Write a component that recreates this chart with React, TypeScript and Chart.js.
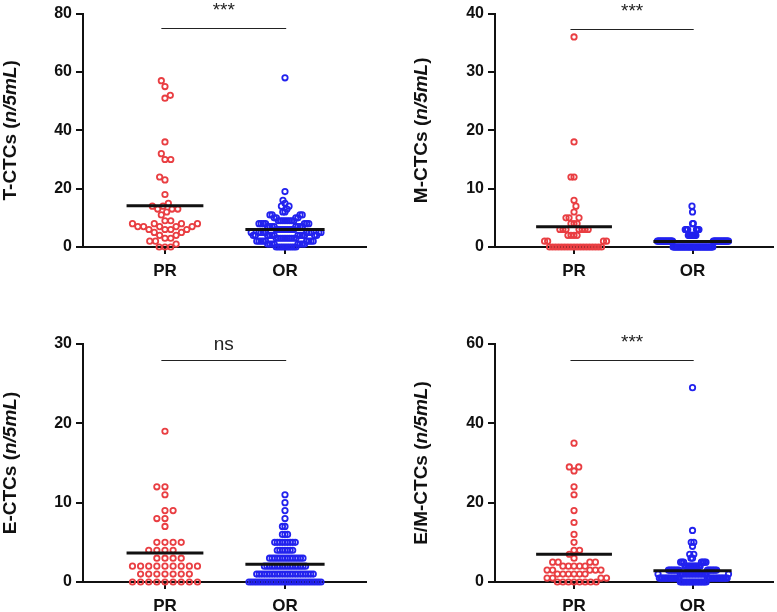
import React, { useEffect, useRef } from "react";
import { Chart, registerables } from "chart.js";
Chart.register(...registerables);
Chart.defaults.font.family = "'Liberation Sans', Arial, sans-serif";

// ---------- data ----------
const groupLabels = ["PR", "OR"];
const yTitles = ["T-CTCs", "M-CTCs", "E-CTCs", "E/M-CTCs"];
const yMaxes = [80, 40, 30, 60];
const ySteps = [20, 10, 10, 20];
const sigLabels = ["***", "***", "ns", "***"];
const sigLevels = [75, 37.3, 28, 56];

const tPR = [57, 55, 52, 51, 36, 32, 30, 30, 24, 23, 18, 15, 14, 14, 13, 13, 13, 12, 11, 9, 9,
  8, 8, 8, 8, 7, 7, 7, 7, 7, 6, 6, 6, 6, 5, 5, 4, 4, 3, 3, 2, 2, 1, 0, 0, 0];
const tOR = [
  0, 0, 0, 0, 0, 0, 0, 0, 0, 0,
  1, 1, 1, 1, 1, 1, 1, 1,
  2, 2, 2, 2, 2, 2, 2, 2, 2,
  3, 3, 3, 3, 3, 3, 3, 3, 3, 3,
  4, 4, 4, 4, 4, 4, 4, 4, 4, 4, 4, 4,
  5, 5, 5, 5, 5, 5, 5, 5, 5, 5,
  6, 6, 6, 6, 6, 6, 6, 6, 6,
  7, 7, 7, 7, 7, 7, 7, 7,
  8, 8, 8, 8, 8, 8, 8,
  9, 9, 9, 9, 9, 9, 9, 9,
  10, 10, 10, 10, 11, 11, 11, 11, 12, 12, 13, 14, 14, 15, 16, 19, 58];

const mPR = [36, 18, 12, 12, 8, 7, 6, 5, 5, 5, 4, 4, 4, 3, 3, 3, 3, 3, 3, 3, 2, 2, 2, 2, 1, 1, 1, 1,
  0, 0, 0, 0, 0, 0, 0, 0, 0, 0, 0, 0, 0, 0, 0, 0, 0, 0];
const mOR = [
  0, 0, 0, 0, 0, 0, 0, 0, 0, 0, 0, 0, 0, 0, 0, 0, 0, 0, 0, 0, 0, 0, 0, 0,
  0, 0, 0, 0, 0, 0, 0, 0, 0, 0, 0, 0, 0, 0, 0, 0, 0, 0, 0, 0, 0, 0, 0, 0,
  1, 1, 1, 1, 1, 1, 1, 1, 1, 1, 1, 1, 1, 1, 1, 1, 1, 1, 1,
  1, 1, 1, 1, 1, 1, 1, 1, 1, 1, 1, 1, 1, 1, 1, 1, 1, 1, 1,
  2, 2, 2, 2, 2, 2, 2, 2, 2, 2,
  3, 3, 3, 3, 3, 3, 3, 3, 4, 4, 6, 7];

const ePR = [19, 12, 12, 11, 9, 9, 8, 8, 7, 5, 5, 5, 5, 4, 4, 4, 4, 3, 3, 3, 3,
  2, 2, 2, 2, 2, 2, 2, 2, 2, 1, 1, 1, 1, 1, 1, 1, 0, 0, 0, 0, 0, 0, 0, 0, 0];
const eOR = [
  0, 0, 0, 0, 0, 0, 0, 0, 0, 0, 0, 0, 0, 0, 0, 0, 0, 0, 0, 0, 0, 0, 0, 0, 0, 0, 0, 0, 0,
  1, 1, 1, 1, 1, 1, 1, 1, 1, 1, 1, 1, 1, 1, 1, 1, 1, 1, 1, 1, 1, 1, 1,
  2, 2, 2, 2, 2, 2, 2, 2, 2, 2, 2, 2, 2, 2, 2, 2, 2,
  3, 3, 3, 3, 3, 3, 3, 3, 3, 3, 3, 3, 3, 3,
  4, 4, 4, 4, 4, 4, 4,
  5, 5, 5, 5, 5, 5, 5, 5, 5,
  6, 6, 6, 7, 7, 8, 9, 10, 11];

const emPR = [35, 29, 29, 28, 24, 22, 18, 15, 12, 10, 8, 8, 7, 6, 5, 5, 5, 5, 4, 4, 4, 4, 4,
  3, 3, 3, 3, 3, 2, 2, 2, 2, 2, 2, 1, 1, 1, 1, 0, 0, 0, 0, 0, 0, 0, 0];
const emOR = [49, 13, 10, 10, 9, 7, 7, 6, 6,
  5, 5, 5, 5, 5, 5, 5,
  4, 4, 4, 4, 4, 4, 4, 4, 4, 4, 4,
  3, 3, 3, 3, 3, 3, 3, 3, 3, 3, 3, 3, 3, 3, 3,
  2, 2, 2, 2, 2, 2, 2, 2, 2, 2, 2, 2, 2, 2, 2, 2, 2, 2, 2, 2,
  1, 1, 1, 1, 1, 1, 1, 1, 1, 1, 1, 1, 1, 1, 1, 1, 1, 1, 1, 1, 1, 1, 1, 1, 1, 1, 1, 1,
  0, 0, 0, 0, 0, 0, 0, 0, 0, 0, 0, 0, 0, 0, 0, 0, 0, 0];

const panelData = [[tPR, tOR], [mPR, mOR], [ePR, eOR], [emPR, emOR]];

// ---------- layout / style ----------
const colors = ["rgb(233,62,66)", "rgb(34,34,238)"];
const panels = [
  { left: 0, top: 0, w: 390, h: 300, l: 83, t: 10, r: 366, b: 247, xMin: 0.317, titleX: 11 },
  { left: 390, top: 0, w: 387, h: 300, l: 105, t: 10, r: 386, b: 247, xMin: 0.333, titleX: 32 },
  { left: 0, top: 300, w: 390, h: 312, l: 83, t: 44, r: 366, b: 282, xMin: 0.317, titleX: 11 },
  { left: 390, top: 300, w: 387, h: 312, l: 105, t: 44, r: 386, b: 282, xMin: 0.333, titleX: 32 },
];
const X_MAX = 2.675;
const FONT = "'Liberation Sans', Arial, sans-serif";
const INK = "#111111";

function mean(a: number[]) {
  return a.reduce((s, v) => s + v, 0) / a.length;
}

// beeswarm offsets (pixels) computed from the values and the y scale
function swarm(values: number[], pyu: number, ax0: number, ay: number, maxHalf: number): number[] {
  const idx = values.map((_, i) => i).sort((a, b) => values[a] - values[b]);
  let ax = ax0;
  let res: number[] = [];
  for (let iter = 0; iter < 14; iter++) {
    const placed: { x: number; y: number }[] = [];
    res = new Array(values.length).fill(0);
    let flip = 1;
    for (const i of idx) {
      const y = values[i] * pyu;
      const near = placed.filter((p) => Math.abs(p.y - y) < ay - 1e-6);
      const cands = [0];
      for (const p of near) {
        const dy = (p.y - y) / ay;
        const w = ax * Math.sqrt(Math.max(0, 1 - dy * dy));
        cands.push(p.x + w, p.x - w);
      }
      let best = 0;
      let bestScore = Infinity;
      for (const c of cands) {
        let ok = true;
        for (const p of near) {
          const dx = (p.x - c) / ax;
          const dy = (p.y - y) / ay;
          if (dx * dx + dy * dy < 1 - 1e-6) {
            ok = false;
            break;
          }
        }
        if (!ok) continue;
        const score = Math.abs(c) + (Math.sign(c) === flip ? 0 : 1e-3);
        if (score < bestScore) {
          bestScore = score;
          best = c;
        }
      }
      if (best !== 0) flip = -Math.sign(best);
      placed.push({ x: best, y });
      res[i] = best;
    }
    const half = Math.max(...res.map((v) => Math.abs(v)));
    if (half <= maxHalf + 0.3) break;
    ax *= maxHalf / half;
  }
  return res;
}

const overlayPlugin = {
  id: "overlay",
  afterDraw(chart: any, _args: any, opts: any) {
    const { ctx, chartArea } = chart;
    const xs = chart.scales.x;
    const ys = chart.scales.y;
    // y axis title
    ctx.save();
    const cy = (chartArea.top + chartArea.bottom) / 2;
    ctx.translate(opts.titleX, cy);
    ctx.rotate(-Math.PI / 2);
    ctx.textBaseline = "middle";
    ctx.textAlign = "left";
    ctx.fillStyle = INK;
    const parts: [string, string][] = [
      [opts.title + " (", `bold 19px ${FONT}`],
      ["n/5mL", `italic bold 19px ${FONT}`],
      [")", `bold 19px ${FONT}`],
    ];
    let total = 0;
    const widths = parts.map(([t, f]) => {
      ctx.font = f;
      const w = ctx.measureText(t).width;
      total += w;
      return w;
    });
    let x0 = -total / 2;
    parts.forEach(([t, f], k) => {
      ctx.font = f;
      ctx.fillText(t, x0, 0);
      x0 += widths[k];
    });
    ctx.restore();
    // significance bracket
    ctx.save();
    const yy = Math.round(ys.getPixelForValue(opts.sigY)) + 0.5;
    const x1 = xs.getPixelForValue(0.97);
    const x2 = xs.getPixelForValue(2.01);
    ctx.strokeStyle = "#222";
    ctx.lineWidth = 1;
    ctx.beginPath();
    ctx.moveTo(x1, yy);
    ctx.lineTo(x2, yy);
    ctx.stroke();
    ctx.fillStyle = "#222";
    ctx.font = `19px ${FONT}`;
    ctx.textAlign = "center";
    ctx.textBaseline = "alphabetic";
    const lift = opts.sig === "ns" ? 10.5 : 12.5;
    ctx.fillText(opts.sig, (x1 + x2) / 2, yy - lift);
    ctx.restore();
  },
};

function Panel({ index }: { index: number }) {
  const ref = useRef<HTMLCanvasElement | null>(null);
  const p = panels[index];
  useEffect(() => {
    if (!ref.current) return;
    const groups = panelData[index];
    const halfW = [0.32, 0.33];
    const datasets: any[] = [];
    groups.forEach((vals, g) => {
      const m = mean(vals);
      datasets.push({
        type: "line",
        data: [
          { x: g + 1 - halfW[g], y: m },
          { x: g + 1 + halfW[g], y: m },
        ],
        borderColor: INK,
        borderWidth: 3,
        pointRadius: 0,
        showLine: true,
        clip: false,
        order: 0,
      });
    });
    groups.forEach((vals, g) => {
      datasets.push({
        type: "scatter",
        data: vals.map((v) => ({ x: g + 1, y: v })),
        borderColor: colors[g],
        backgroundColor: "rgba(0,0,0,0)",
        pointRadius: 2.7,
        pointBorderWidth: 1.8,
        pointHoverRadius: 2.7,
        clip: false,
        order: 1,
      });
    });
    const tickFontY = { size: 16, weight: "bold" as const };
    const tickFontX = { size: 17, weight: "bold" as const };
    const chart = new Chart(ref.current, {
      type: "scatter",
      data: { datasets },
      options: {
        responsive: false,
        animation: false,
        devicePixelRatio: 1,
        events: [],
        layout: { padding: { top: p.t, right: p.w - p.r, left: 0, bottom: 0 } },
        plugins: {
          legend: { display: false },
          tooltip: { enabled: false },
          overlay: { title: yTitles[index], titleX: p.titleX, sig: sigLabels[index], sigY: sigLevels[index] },
        } as any,
        scales: {
          x: {
            type: "linear",
            min: p.xMin,
            max: X_MAX,
            afterBuildTicks: (ax: any) => {
              ax.ticks = [{ value: 1 }, { value: 2 }];
            },
            afterFit: (s: any) => {
              s.height = p.h - p.b;
            },
            ticks: {
              callback: (v: any) => (v === 1 ? groupLabels[0] : v === 2 ? groupLabels[1] : ""),
              font: tickFontX,
              color: INK,
              padding: 7,
              autoSkip: false,
              maxRotation: 0,
            },
            grid: { drawOnChartArea: false, drawTicks: true, tickLength: 7, color: INK, lineWidth: 2 },
            border: { display: true, color: INK, width: 2 },
          },
          y: {
            type: "linear",
            min: 0,
            max: yMaxes[index],
            afterFit: (s: any) => {
              s.width = p.l;
            },
            ticks: { stepSize: ySteps[index], font: tickFontY, color: INK, padding: 4 },
            grid: { drawOnChartArea: false, drawTicks: true, tickLength: 7, color: INK, lineWidth: 2 },
            border: { display: true, color: INK, width: 2 },
          },
        },
      } as any,
      plugins: [overlayPlugin],
    });
    // place points in a swarm using the scales' pixel sizes
    const ys: any = chart.scales.y;
    const xs: any = chart.scales.x;
    const pyu = Math.abs(ys.getPixelForValue(1) - ys.getPixelForValue(0));
    const pxu = Math.abs(xs.getPixelForValue(1) - xs.getPixelForValue(0));
    const maxHalf = [32.5, 36];
    groups.forEach((vals, g) => {
      const off = swarm(vals, pyu, 8.3, 7.5, maxHalf[g]);
      (chart.data.datasets[2 + g] as any).data = vals.map((v, i) => ({ x: g + 1 + off[i] / pxu, y: v }));
    });
    chart.update("none");
    return () => chart.destroy();
  }, [index]);
  return (
    <div style={{ position: "absolute", left: p.left, top: p.top, width: p.w, height: p.h }}>
      <canvas ref={ref} width={p.w} height={p.h} style={{ width: p.w, height: p.h, display: "block" }} />
    </div>
  );
}

export default function App() {
  return (
    <div style={{ position: "absolute", left: 0, top: 0, width: 777, height: 612, background: "#fff", overflow: "hidden" }}>
      {panels.map((_, i) => (
        <Panel key={i} index={i} />
      ))}
    </div>
  );
}
